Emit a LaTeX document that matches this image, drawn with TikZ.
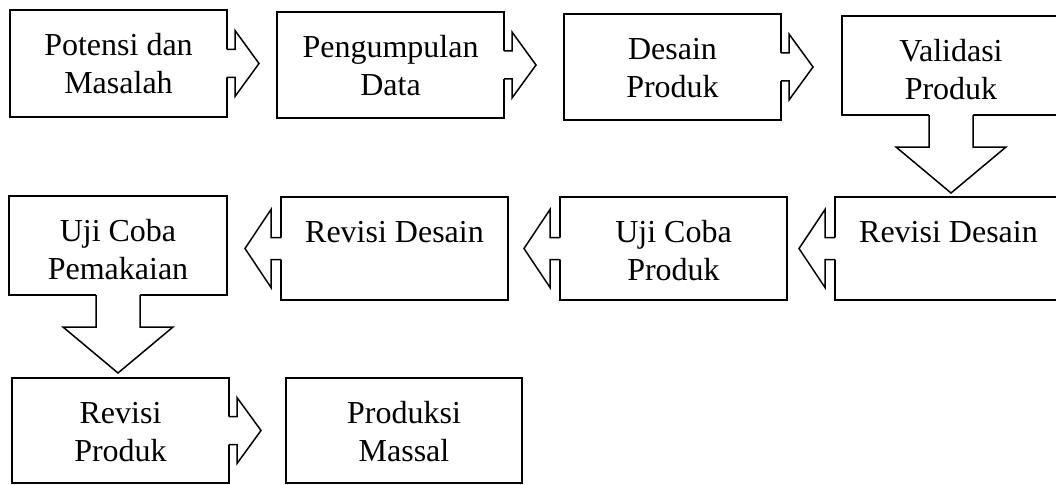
\documentclass[tikz,border=0pt]{standalone}
\usepackage{fontspec}
\setmainfont{Liberation Serif}
\usetikzlibrary{calc}

\newcommand{\panahkanan}[1]{%
    \begin{scope}[shift={(#1.east)}]
        \fill[white] (-2,-14) -- (8,-14) -- (8,-33) -- (32,0) -- (8,33) -- (8,14) -- (-2,14) -- cycle;
        \draw (0,-14) -- (8,-14) -- (8,-33) -- (32,0) -- (8,33) -- (8,14) -- (0,14);
    \end{scope}}
\newcommand{\panahkiri}[1]{%
    \begin{scope}[shift={(#1.west)}]
        \fill[white] (2,-11) -- (-10,-11) -- (-10,-39) -- (-36,0) -- (-10,39) -- (-10,11) -- (2,11) -- cycle;
        \draw (0,-11) -- (-10,-11) -- (-10,-39) -- (-36,0) -- (-10,39) -- (-10,11) -- (0,11);
    \end{scope}}
\newcommand{\panahbawah}[1]{%
    \begin{scope}[shift={(#1.south)}]
        \fill[white] (-22,-2) -- (-22,32) -- (-55,32) -- (0,78) -- (55,32) -- (22,32) -- (22,-2) -- cycle;
        \draw (-22,0) -- (-22,32) -- (-55,32) -- (0,78) -- (55,32) -- (22,32) -- (22,0);
    \end{scope}}

\begin{document}
\begin{tikzpicture}[x=1pt,y=-1pt,line width=1.5pt,
    kotak/.style={draw,inner sep=0pt,outer sep=0pt},
    teks/.style={anchor=north,align=center,inner sep=0pt,font=\fontsize{32}{38}\selectfont}]
                \useasboundingbox (0,0) rectangle (1056,484);

                \node[kotak,minimum width=217pt,minimum height=107pt] (b1) at (118.5,63.5) {};
                \node[kotak,minimum width=227pt,minimum height=106pt] (b2) at (390.5,65) {};
                \node[kotak,minimum width=217pt,minimum height=106pt] (b3) at (672.5,67) {};
                \node[kotak,minimum width=218pt,minimum height=99pt] (b4) at (951,65.5) {};

                \node[kotak,minimum width=227pt,minimum height=103pt] (b5) at (948.5,248.5) {};
                \node[kotak,minimum width=227pt,minimum height=103pt] (b6) at (673.5,248.5) {};
                \node[kotak,minimum width=227pt,minimum height=103pt] (b7) at (394.5,248.5) {};
                \node[kotak,minimum width=218pt,minimum height=99pt] (b8) at (118,245.5) {};

                \node[kotak,minimum width=217pt,minimum height=105pt] (b9) at (120.5,430.5) {};
                \node[kotak,minimum width=236pt,minimum height=105pt] (b10) at (404,430.5) {};

                \panahkanan{b1}
                \panahkanan{b2}
                \panahkanan{b3}
                \panahbawah{b4}
                \panahkiri{b5}
                \panahkiri{b6}
                \panahkiri{b7}
                \panahbawah{b8}
                \panahkanan{b9}

                \node[teks] (t1) at ([yshift=-18pt]b1.north) {\strut Potensi dan\\Masalah};
                \node[teks] (t2) at ([yshift=-18pt]b2.north) {\strut Pengumpulan\\Data};
                \node[teks] (t3) at ([yshift=-18pt]b3.north) {\strut Desain\\Produk};
                \node[teks] (t4) at ([yshift=-18pt]b4.north) {\strut Validasi\\Produk};
                \node[teks] (t5) at ([yshift=-18pt]b5.north) {\strut Revisi Desain};
                \node[teks] (t6) at ([yshift=-18pt]b6.north) {\strut Uji Coba\\Produk};
                \node[teks] (t7) at ([yshift=-18pt]b7.north) {\strut Revisi Desain};
                \node[teks] (t8) at ([yshift=-18pt]b8.north) {\strut Uji Coba\\Pemakaian};
                \node[teks] (t9) at ([yshift=-18pt]b9.north) {\strut Revisi\\Produk};
                \node[teks] (t10) at ([yshift=-18pt]b10.north) {\strut Produksi\\Massal};
            \end{tikzpicture}
\end{document}
